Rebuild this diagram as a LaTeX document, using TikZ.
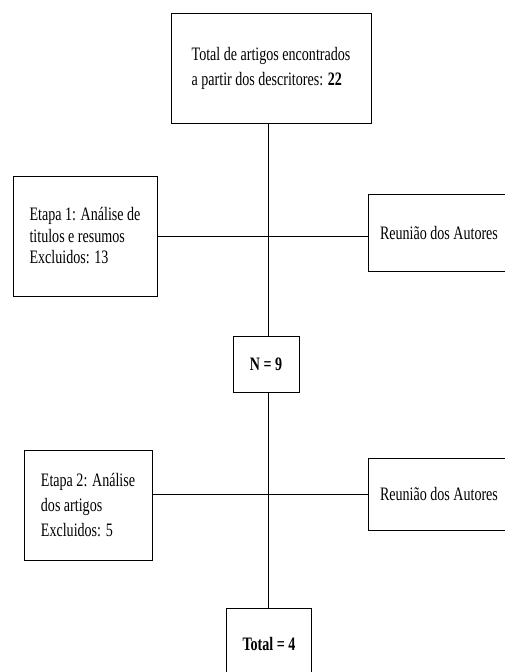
\documentclass[tikz,border=0pt]{standalone}
\usepackage{fontspec}
\setmainfont{Liberation Serif}[FakeStretch=0.74]
\usetikzlibrary{positioning,calc}

\begin{document}
\begin{tikzpicture}[x=1pt, y=-1pt,
    box/.style={draw, line width=0.8pt, align=left, inner sep=0pt,
        font=\fontsize{19}{25}\selectfont},
    link/.style={line width=0.8pt}]
    \useasboundingbox (0,0) rectangle (504,672);
    % boxes of the flow
    \node[box, minimum width=200, minimum height=110] (total) at (271,68)
        {Total de artigos encontrados\\a partir dos descritores: \textbf{22}};
    \node[box, minimum width=144, minimum height=120,
        font=\fontsize{19}{21.5}\selectfont] (etapa1) at (85,236)
        {Etapa 1: Análise de\\titulos e resumos\\Excluidos: 13};
    \node[box, minimum width=142, minimum height=77] (reuniao1) at (439,233)
        {Reunião dos Autores};
    \node[box, minimum width=66, minimum height=56] (n9) at (266,364)
        {\textbf{N = 9}};
    \node[box, minimum width=128, minimum height=110] (etapa2) at (88,505)
        {Etapa 2: Análise\\dos artigos\\Excluidos: 5};
    \node[box, minimum width=142, minimum height=72] (reuniao2) at (439,494)
        {Reunião dos Autores};
    \node[box, minimum width=85, minimum height=72] (final) at (269,644)
        {\textbf{Total = 4}};
    % connectors
    \coordinate (spine) at (268,0);
    \draw[link] (total.south -| spine) -- (n9.north -| spine);
    \draw[link] (n9.south -| spine) -- (final.north -| spine);
    \draw[link] (etapa1.east) -- (etapa1.east -| reuniao1.west);
    \draw[link] (etapa2.east |- reuniao2.west) -- (reuniao2.west);
\end{tikzpicture}
\end{document}
